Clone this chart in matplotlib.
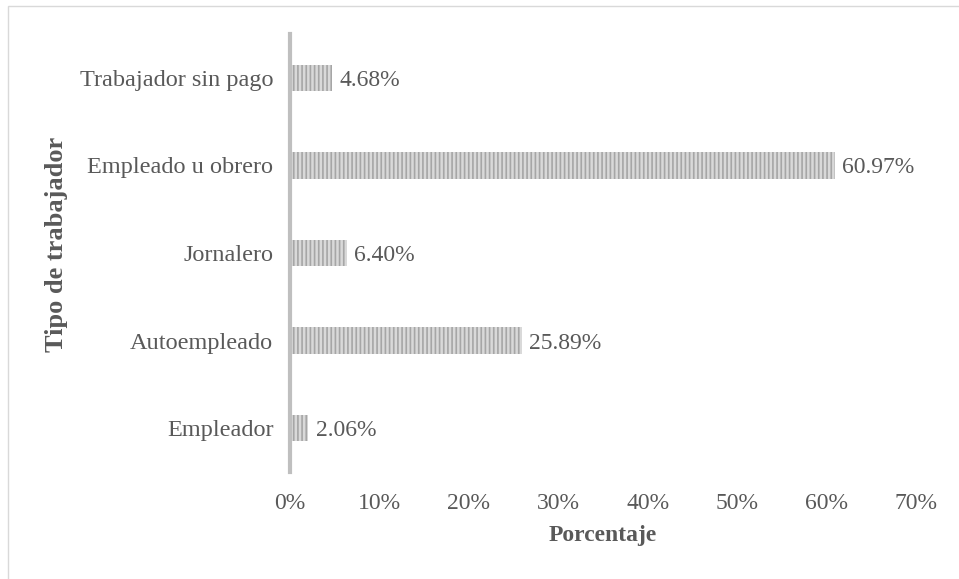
import matplotlib
matplotlib.use("Agg")
import matplotlib.pyplot as plt
from matplotlib.patches import Rectangle
from matplotlib.ticker import FuncFormatter

categories = ["Empleador", "Autoempleado", "Jornalero", "Empleado u obrero", "Trabajador sin pago"]
values = [2.06, 25.89, 6.40, 60.97, 4.68]
xticks = [0, 10, 20, 30, 40, 50, 60, 70]

plt.rcParams['font.family'] = ['Liberation Serif', 'DejaVu Serif']
plt.rcParams['hatch.linewidth'] = 1.2

text_color = '#595959'

fig = plt.figure(figsize=(9.59, 5.79), dpi=100)
ax = fig.add_axes([290 / 959, 1 - 472 / 579, (916 - 290) / 959, (472 - 34) / 579])

# outer frame of the chart area
fig.patches.append(Rectangle((8 / 959, -0.1), 1.2, 1 - 6 / 579 + 0.1,
                             transform=fig.transFigure, fill=False,
                             edgecolor='#d9d9d9', linewidth=1.0))

y = range(len(categories))
ax.barh(y, values, height=0.3, color='#d9d9d9', edgecolor='#a6a6a6',
        linewidth=0, hatch='||||')

for yi, v in zip(y, values):
    ax.text(v + 0.8, yi, f"{v:.2f}%", va='center_baseline', ha='left',
            fontsize=17, color=text_color)

ax.set_xlim(0, 70)
ax.set_ylim(-0.5, len(categories) - 0.5)
ax.set_xticks(xticks)
ax.xaxis.set_major_formatter(FuncFormatter(lambda v, p: f"{v:.0f}%"))
ax.set_yticks(list(y))
ax.set_yticklabels(categories)
ax.tick_params(axis='both', length=0, labelcolor=text_color)
ax.tick_params(axis='x', pad=15, labelsize=17)
ax.tick_params(axis='y', pad=12, labelsize=17.5)

for s in ['top', 'right', 'bottom']:
    ax.spines[s].set_visible(False)
ax.spines['left'].set_color('#bfbfbf')
ax.spines['left'].set_linewidth(3)

ax.set_xlabel("Porcentaje", fontsize=17, fontweight='bold', color=text_color, labelpad=8)
ax.set_ylabel("Tipo de trabajador", fontsize=19, fontweight='bold', color=text_color)
ax.yaxis.set_label_coords(-0.355, 0.52)

fig.savefig("out.png", dpi=100)
